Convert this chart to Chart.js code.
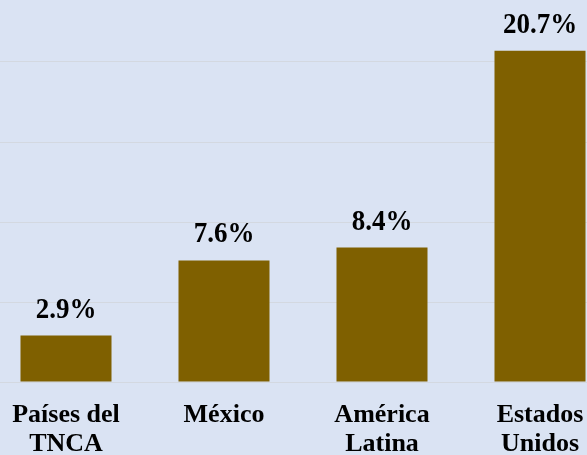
<!DOCTYPE html>
<html>
<head>
<meta charset="utf-8">
<script src="https://cdn.jsdelivr.net/npm/chart.js@4"></script>
<style>
  html, body { margin: 0; padding: 0; background: #dae3f3; overflow: hidden; }
  body { width: 587px; height: 455px; position: relative; }
  #wrap { position: absolute; left: -13px; top: -18px; width: 632px; height: 473px; }
</style>
</head>
<body>
<div id="wrap"><canvas id="grafico"></canvas></div>
<script>
// categorías y valores (%)
const categorias = [
  ['Países del', 'TNCA'],
  ['México'],
  ['América', 'Latina'],
  ['Estados', 'Unidos']
];
const valores = [2.9, 7.6, 8.4, 20.7];
const etiquetas = ['2.9%', '7.6%', '8.4%', '20.7%'];

// etiquetas encima de cada barra
const etiquetasBarras = {
  id: 'etiquetasBarras',
  afterDatasetsDraw(chart) {
    const ctx = chart.ctx;
    const meta = chart.getDatasetMeta(0);
    ctx.save();
    ctx.font = 'bold 27px "Liberation Serif", "Times New Roman", serif';
    ctx.fillStyle = '#000000';
    ctx.textAlign = 'center';
    ctx.textBaseline = 'alphabetic';
    meta.data.forEach((bar, i) => {
      ctx.save();
      ctx.translate(bar.x, bar.y - 18);
      ctx.scale(1, 1.12);
      ctx.fillText(etiquetas[i], 0, 0);
      ctx.restore();
    });
    ctx.restore();
  }
};

new Chart(document.getElementById('grafico'), {
  type: 'bar',
  data: {
    labels: categorias,
    datasets: [{
      data: valores,
      backgroundColor: '#7f6000',
      borderWidth: 0,
      barPercentage: 0.576,
      categoryPercentage: 1
    }]
  },
  options: {
    responsive: true,
    maintainAspectRatio: false,
    animation: false,
    layout: { padding: 0 },
    plugins: {
      legend: { display: false },
      tooltip: { enabled: false }
    },
    scales: {
      x: {
        grid: { display: false },
        border: { display: false },
        ticks: {
          color: '#000000',
          padding: 11,
          maxRotation: 0,
          autoSkip: false,
          font: { family: '"Liberation Serif", "Times New Roman", serif', size: 26, weight: 'bold', lineHeight: 1.1 }
        },
        afterFit(scale) { scale.height = 73; }
      },
      y: {
        min: 0,
        max: 25,
        ticks: { display: false, stepSize: 5 },
        grid: { color: '#d3d8e0', lineWidth: 1, drawTicks: false },
        border: { display: false },
        afterFit(scale) { scale.width = 0; }
      }
    }
  },
  plugins: [etiquetasBarras]
});
</script>
</body>
</html>
